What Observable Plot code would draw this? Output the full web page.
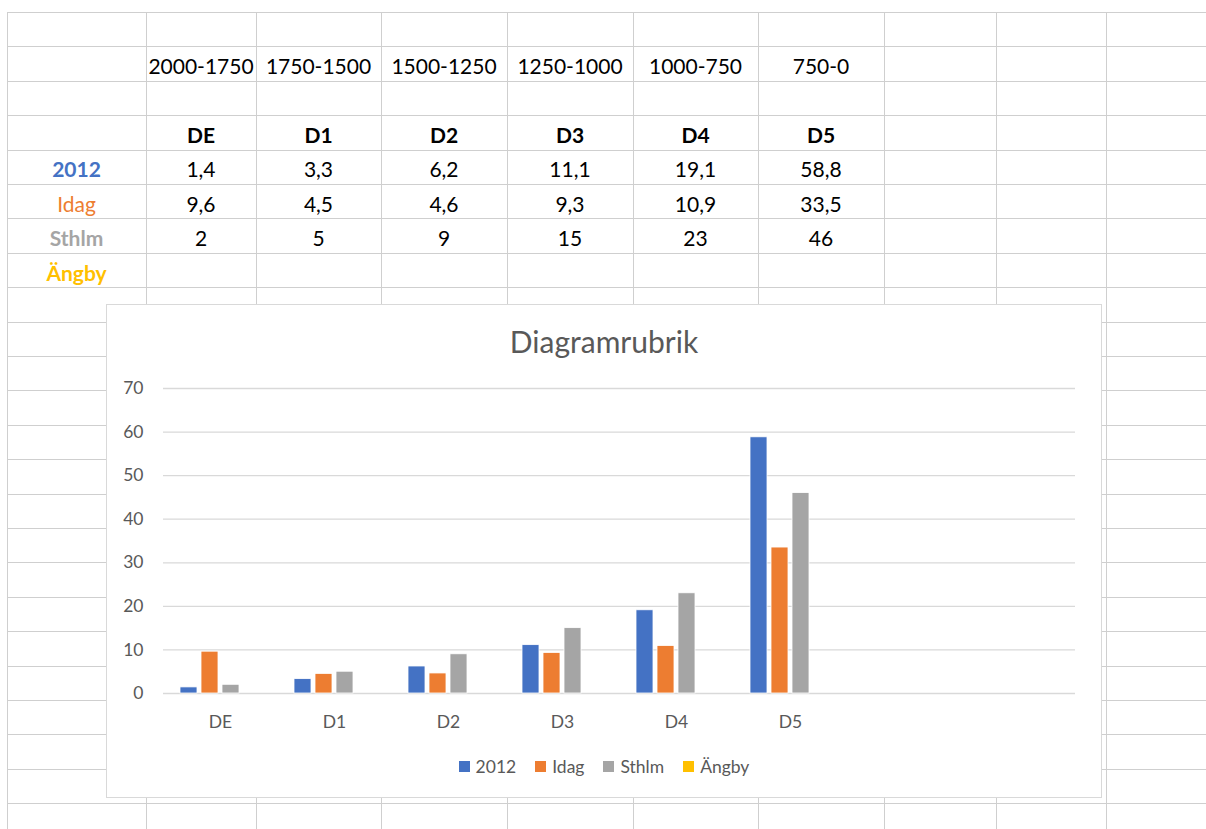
<!DOCTYPE html>
<html>
<head>
<meta charset="utf-8">
<script src="https://cdn.jsdelivr.net/npm/d3@7"></script>
<script src="https://cdn.jsdelivr.net/npm/@observablehq/plot@0.6"></script>
<style>
html, body { margin: 0; padding: 0; background: #fff; }
#page { position: relative; width: 1206px; height: 829px; overflow: hidden; font-family: Lato, "Open Sans", sans-serif; }
.hl, .vl { position: absolute; background: #cfcfcf; }
.cell { position: absolute; display: flex; align-items: flex-end; justify-content: center; box-sizing: border-box;
        font-size: 21px; line-height: 21px; color: #000; padding-bottom: 4.6px; white-space: nowrap; }
#chartbox { position: absolute; left: 106px; top: 304px; width: 996px; height: 494px; background: #fff;
            box-shadow: inset 0 0 0 1px #d9d9d9; }
#chartbox > svg { position: absolute; left: 0; top: 0; }
#title { position: absolute; left: 0; width: 100%; top: 22px; text-align: center; font-size: 30px; line-height: 30px; color: #595959; }
#legend { position: absolute; left: 0; width: 100%; top: 447px; height: 30px; display: flex; justify-content: center; align-items: center; }
#legend .lg-swatches { font-family: Lato, "Open Sans", sans-serif !important; font-size: 17.5px !important; color: #595959 !important; margin: 0 !important; display: flex; align-items: center; min-height: 0 !important; }
#legend .lg-swatch { margin-right: 19px !important; display: inline-flex; align-items: center; }
#legend .lg-swatch:last-child { margin-right: 0 !important; }
#legend .lg-swatch > svg { margin-right: 6px !important; position: static; }
</style>
</head>
<body>
<div id="page">
  <div id="chartbox"><div id="title">Diagramrubrik</div><div id="legend"></div></div>
</div>
<script>
// ---- data ----
const ranges = ["2000-1750", "1750-1500", "1500-1250", "1250-1000", "1000-750", "750-0"];
const categories = ["DE", "D1", "D2", "D3", "D4", "D5"];
const emptyCategories = ["#7", "#8"]; // two empty columns included in the chart's range
const series = ["2012", "Idag", "Sthlm", "Ängby"];
const values2012 = [1.4, 3.3, 6.2, 11.1, 19.1, 58.8];
const valuesIdag = [9.6, 4.5, 4.6, 9.3, 10.9, 33.5];
const valuesSthlm = [2, 5, 9, 15, 23, 46];
const valuesAngby = [];
const seriesColors = ["#4472C4", "#ED7D31", "#A5A5A5", "#FFC000"];
const seriesWeights = ["bold", "normal", "bold", "bold"];
const yTicks = [0, 10, 20, 30, 40, 50, 60, 70];

const allValues = [values2012, valuesIdag, valuesSthlm, valuesAngby];
const data = [];
categories.forEach((c, i) => series.forEach((s, j) => {
  const v = allValues[j][i];
  if (v != null) data.push({category: c, series: s, value: v});
}));
const allCategories = [...categories, ...emptyCategories];
const gridData = allCategories.flatMap(c => yTicks.map(t => ({category: c, tick: t})));

// ---- spreadsheet grid ----
const page = document.getElementById("page");
const colEdges = [7, 146, 256, 381, 507, 633, 758, 884, 996, 1106];
const rowTop = 12, rowH = 34.4;
for (let k = 0; rowTop + k * rowH < 829; k++) {
  const d = document.createElement("div");
  d.className = "hl";
  Object.assign(d.style, {left: colEdges[0] + "px", width: (1206 - colEdges[0]) + "px", top: Math.round(rowTop + k * rowH) + "px", height: "1px"});
  page.insertBefore(d, page.firstChild);
}
colEdges.forEach(x => {
  const d = document.createElement("div");
  d.className = "vl";
  Object.assign(d.style, {left: x + "px", width: "1px", top: rowTop + "px", height: (829 - rowTop) + "px"});
  page.insertBefore(d, page.firstChild);
});
function cell(r, c, text, style = {}) {
  const d = document.createElement("div");
  d.className = "cell";
  d.textContent = text;
  Object.assign(d.style, {left: colEdges[c] + "px", width: (colEdges[c + 1] - colEdges[c]) + "px",
    top: (rowTop + r * rowH) + "px", height: rowH + "px"}, style);
  page.insertBefore(d, document.getElementById("chartbox"));
}
ranges.forEach((t, i) => cell(1, i + 1, t));
categories.forEach((t, i) => cell(3, i + 1, t, {fontWeight: "bold"}));
series.forEach((s, j) => {
  cell(4 + j, 0, s, {color: seriesColors[j], fontWeight: seriesWeights[j]});
  allValues[j].forEach((v, i) => cell(4 + j, i + 1, String(v).replace(".", ",")));
});

// ---- chart ----
const chart = Plot.plot({
  width: 996,
  height: 494,
  marginLeft: 55,
  marginRight: 25,
  marginTop: 84,
  marginBottom: 105,
  style: {fontFamily: "Lato, 'Open Sans', sans-serif", fontSize: "17.5px", color: "#595959", background: "transparent", overflow: "visible"},
  fx: {domain: allCategories, padding: 0, label: null, axis: "bottom", tickSize: 0, tickPadding: 22,
       tickFormat: d => emptyCategories.includes(d) ? "" : d},
  x: {domain: series, paddingInner: 0.18, paddingOuter: 0.74, axis: null},
  y: {domain: [0, 70], ticks: yTicks, tickSize: 0, tickPadding: 20, label: null},
  color: {domain: series, range: seriesColors},
  marks: [
    Plot.ruleY(gridData, {fx: "category", y: "tick", stroke: "#d9d9d9", strokeWidth: 1.3}),
    Plot.barY(data, {fx: "category", x: "series", y: "value", fill: "series", stroke: "#fff", strokeWidth: 0.8})
  ]
});
document.getElementById("chartbox").appendChild(chart);

const legend = Plot.legend({
  color: {domain: series, range: seriesColors},
  legend: "swatches",
  swatchSize: 11,
  className: "lg"
});
document.getElementById("legend").appendChild(legend);
</script>
</body>
</html>
